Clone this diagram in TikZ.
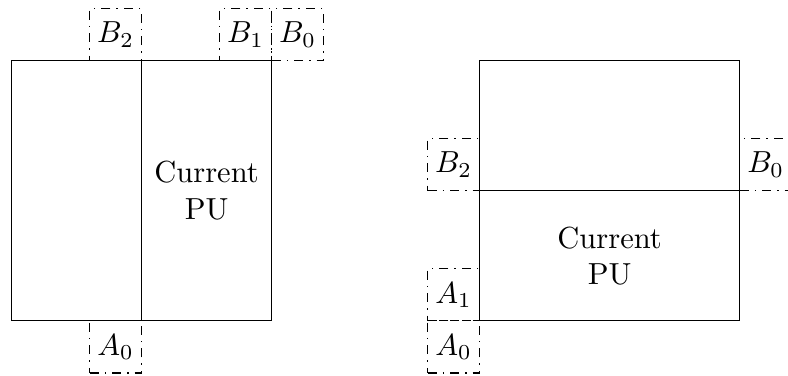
\documentclass[tikz,border=0pt]{standalone}
\usepackage{amsmath}
\usepackage{tikz}
\usetikzlibrary{positioning}
\tikzstyle{pu}   = [rectangle, draw, outer sep=0pt, inner sep=0pt, align=center]
\tikzstyle{nb}   = [rectangle, draw, dash dot, outer sep=0pt, inner sep=0pt,
                    minimum size=0.6cm]
\begin{document}
\begin{tikzpicture}
    \useasboundingbox (-0.133,-0.635) rectangle (8.958,3.702);

    % vertical split
    \node[pu, minimum width=1.5cm, minimum height=3cm, anchor=south west] (lpart) at (0,0) {};
    \node[pu, minimum width=1.5cm, minimum height=3cm, right=0pt of lpart] (lcur) {Current\\PU};
    \node[nb, anchor=south east] (lb2) at (lcur.north west) {$B_2$};
    \node[nb, anchor=south east] (lb1) at (lcur.north east) {$B_1$};
    \node[nb, anchor=south west] (lb0) at (lcur.north east) {$B_0$};
    \node[nb, anchor=north east] (la0) at (lcur.south west) {$A_0$};

    % horizontal split
    \node[pu, minimum width=3cm, minimum height=1.5cm, anchor=south west] (rcur) at (5.4,0) {Current\\PU};
    \node[pu, minimum width=3cm, minimum height=1.5cm, above=0pt of rcur] (rpart) {};
    \node[nb, anchor=south east] (rb2) at (rcur.north west) {$B_2$};
    \node[nb, anchor=south west] (rb0) at (rcur.north east) {$B_0$};
    \node[nb, anchor=south east] (ra1) at (rcur.south west) {$A_1$};
    \node[nb, anchor=north east] (ra0) at (rcur.south west) {$A_0$};
  \end{tikzpicture}
\end{document}
